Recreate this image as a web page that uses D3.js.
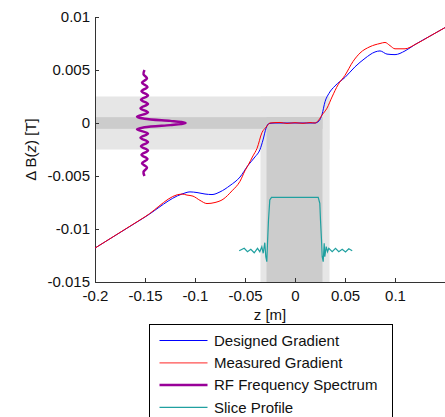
<!DOCTYPE html>
<html>
<head>
<meta charset="utf-8">
<script src="https://cdn.jsdelivr.net/npm/d3@7"></script>
<style>
  body { margin: 0; background: #fff; }
  svg { font-family: "Liberation Sans", Arial, sans-serif; }
</style>
</head>
<body>
<div id="chart"></div>
<script>
'use strict'

// ---- data ----
const xTicks = [-0.2, -0.15, -0.1, -0.05, 0, 0.05, 0.1]
const yTicks = [-0.015, -0.01, -0.005, 0, 0.005, 0.01]

// designed gradient (blue)
const designedZ = [-0.2, -0.15, -0.113, -0.105, -0.098, -0.09, -0.083, -0.075, -0.065, -0.055, -0.047, -0.04, -0.035, -0.032, -0.029, -0.026, -0.02, 0, 0.02, 0.024, 0.027, 0.03, 0.034, 0.04, 0.05, 0.06, 0.07, 0.08, 0.085, 0.092, 0.1, 0.11, 0.12, 0.135, 0.15]
const designedB = [-0.0118, -0.00887, -0.0067, -0.0065, -0.00656, -0.0067, -0.00675, -0.0065, -0.0059, -0.0051, -0.004, -0.0032, -0.0025, -0.0016, -0.0005, -0.00005, 0, 0, 0, 0.0002, 0.0008, 0.002, 0.0028, 0.0035, 0.0043, 0.0053, 0.0061, 0.0067, 0.0068, 0.0065, 0.00645, 0.0068, 0.0074, 0.0082, 0.009]

// measured gradient (red)
const measuredZ = [-0.2, -0.15, -0.113, -0.108, -0.102, -0.095, -0.088, -0.08, -0.072, -0.063, -0.055, -0.05, -0.047, -0.042, -0.038, -0.033, -0.029, -0.025, -0.015, -0.008, 0, 0.008, 0.015, 0.02, 0.023, 0.027, 0.032, 0.037, 0.043, 0.05, 0.058, 0.065, 0.075, 0.085, 0.09, 0.095, 0.1, 0.11, 0.12, 0.135, 0.15]
const measuredB = [-0.0118, -0.00885, -0.0067, -0.0068, -0.0069, -0.0073, -0.0076, -0.0075, -0.0072, -0.0064, -0.0055, -0.0045, -0.004, -0.0031, -0.0024, -0.0009, -0.0004, 0, 0.00005, -0.00004, 0.00003, -0.00003, 0.00004, 0, 0.0002, 0.00075, 0.0014, 0.00245, 0.0036, 0.0045, 0.0058, 0.0066, 0.0072, 0.0075, 0.0076, 0.0073, 0.007, 0.007, 0.0074, 0.0082, 0.009]

// RF frequency spectrum (purple), drawn sideways: B along y, amplitude along z
const rfB = [0.005, 0.0046, 0.0042, 0.0038, 0.0034, 0.003, 0.0026, 0.0022, 0.0018, 0.0014, 0.001, 0.0006, 0.0004, 0.0002, 0.0001, 0, -0.0001, -0.0002, -0.0004, -0.0006, -0.001, -0.0014, -0.0018, -0.0022, -0.0026, -0.003, -0.0034, -0.0038, -0.0042, -0.0046, -0.005]
const rfZ = [-0.1505, -0.1515, -0.148, -0.153, -0.1475, -0.1535, -0.147, -0.154, -0.147, -0.1545, -0.147, -0.158, -0.1505, -0.1247, -0.114, -0.1095, -0.114, -0.1247, -0.1505, -0.158, -0.147, -0.1545, -0.147, -0.154, -0.147, -0.1535, -0.1475, -0.153, -0.148, -0.1515, -0.1505]

// slice profile (teal)
const sliceZ = [-0.0558, -0.0508, -0.0475, -0.0442, -0.0408, -0.0375, -0.0352, -0.0332, -0.0318, -0.0302, -0.0292, -0.0282, -0.0275, -0.0265, -0.0252, -0.0235, 0.0232, 0.0248, 0.0255, 0.0265, 0.0272, 0.0282, 0.0292, 0.0298, 0.0312, 0.0325, 0.0338, 0.0372, 0.0405, 0.0438, 0.0472, 0.0505, 0.0538, 0.0572]
const sliceB = [-0.01205, -0.01182, -0.01214, -0.01192, -0.01224, -0.01182, -0.01214, -0.01167, -0.01229, -0.01129, -0.01261, -0.01308, -0.01135, -0.00915, -0.00726, -0.00701, -0.00701, -0.00758, -0.00915, -0.01104, -0.01261, -0.01308, -0.01135, -0.01261, -0.01167, -0.01214, -0.01182, -0.01214, -0.01182, -0.01214, -0.01192, -0.01217, -0.01186, -0.01205]

// shaded slice / bandwidth regions [z0, z1, b0, b1]
const lightBands = [[-0.2, 0.0345, -0.0025, 0.0025], [-0.0345, 0.0345, -0.015, 0.0025]]
const darkBands = [[-0.2, 0.0275, -0.00055, 0.00055], [-0.0285, 0.0275, -0.015, 0.00055]]

const legendItems = [
    { label: 'Designed Gradient', color: '#0000ff', width: 1 },
    { label: 'Measured Gradient', color: '#ff5050', width: 1.2 },
    { label: 'RF Frequency Spectrum', color: '#990099', width: 2.5 },
    { label: 'Slice Profile', color: '#20a0a0', width: 1.2 }
]

// ---- layout ----
const svgWidth = 445
const svgHeight = 417
const margin = { left: 95, right: 0, top: 17, bottom: 135 }
const width = svgWidth - margin.left - margin.right
const height = svgHeight - margin.top - margin.bottom

const svg = d3.select('#chart')
    .append('svg')
    .attr('width', svgWidth)
    .attr('height', svgHeight)

const g = svg.append('g')
    .attr('transform', `translate(${margin.left},${margin.top})`)

const xScale = d3.scaleLinear().domain([-0.2, 0.15]).range([0, width])
const yScale = d3.scaleLinear().domain([-0.015, 0.01]).range([height, 0])

// bands
function drawBands(bands, fill) {
    g.selectAll(null)
        .data(bands)
        .join('rect')
        .attr('x', d => xScale(d[0]))
        .attr('width', d => xScale(d[1]) - xScale(d[0]))
        .attr('y', d => yScale(d[3]))
        .attr('height', d => yScale(d[2]) - yScale(d[3]))
        .attr('fill', fill)
}
drawBands(lightBands, '#e6e6e6')
drawBands(darkBands, '#cccccc')

// axes
const fmt = d => String(d)
const xAxis = d3.axisBottom(xScale)
    .tickValues(xTicks)
    .tickFormat(fmt)
    .tickSizeInner(-4)
    .tickSizeOuter(0)
    .tickPadding(8)

const yAxis = d3.axisLeft(yScale)
    .tickValues(yTicks)
    .tickFormat(fmt)
    .tickSizeInner(-4)
    .tickSizeOuter(0)
    .tickPadding(5)

const gx = g.append('g')
    .attr('transform', `translate(0,${height})`)
    .call(xAxis)
const gy = g.append('g').call(yAxis)

for (const ax of [gx, gy]) {
    ax.select('.domain').attr('stroke', '#333')
    ax.selectAll('.tick line').attr('stroke', '#333')
    ax.selectAll('.tick text')
        .attr('fill', '#111')
        .style('font-size', '15px')
        .style('font-family', '"Liberation Sans", Arial, sans-serif')
}

// curves
const line = d3.line()
    .x(d => xScale(d[0]))
    .y(d => yScale(d[1]))

function pairs(xs, ys) { return xs.map((x, i) => [x, ys[i]]) }

g.append('path')
    .datum(pairs(designedZ, designedB))
    .attr('fill', 'none')
    .attr('stroke', '#0000ff')
    .attr('stroke-width', 1)
    .attr('d', line.curve(d3.curveMonotoneX))

g.append('path')
    .datum(pairs(measuredZ, measuredB))
    .attr('fill', 'none')
    .attr('stroke', '#ff0000')
    .attr('stroke-width', 1)
    .attr('d', line.curve(d3.curveMonotoneX))

g.append('path')
    .datum(pairs(rfZ, rfB))
    .attr('fill', 'none')
    .attr('stroke', '#990099')
    .attr('stroke-width', 2.5)
    .attr('d', line.curve(d3.curveCatmullRom))

g.append('path')
    .datum(pairs(sliceZ, sliceB))
    .attr('fill', 'none')
    .attr('stroke', '#20a0a0')
    .attr('stroke-width', 1.2)
    .attr('d', line.curve(d3.curveLinear))

// axis labels
svg.append('text')
    .attr('x', margin.left + width / 2)
    .attr('y', 320)
    .attr('text-anchor', 'middle')
    .style('font-size', '15px')
    .attr('fill', '#111')
    .text('z [m]')

const yLab = svg.append('text')
    .attr('transform', `translate(35.5,${margin.top + height / 2}) rotate(-90)`)
    .attr('text-anchor', 'middle')
    .style('font-size', '15px')
    .attr('fill', '#111')
yLab.append('tspan').text('Δ B(')
yLab.append('tspan').style('font-style', 'italic').text('z')
yLab.append('tspan').text(') [T]')

// legend
const legend = svg.append('g').attr('transform', 'translate(149.5,324.5)')
legend.append('rect')
    .attr('width', 243)
    .attr('height', 110)
    .attr('fill', '#fff')
    .attr('stroke', '#000')

const items = legend.selectAll('.item')
    .data(legendItems)
    .join('g')
    .attr('class', 'item')
    .attr('transform', (d, i) => `translate(0,${16 + i * 22.3})`)

items.append('line')
    .attr('x1', 10).attr('x2', 58)
    .attr('stroke', d => d.color)
    .attr('stroke-width', d => d.width)

items.append('text')
    .attr('x', 64.5)
    .attr('dy', '0.35em')
    .style('font-size', '15px')
    .attr('fill', '#111')
    .text(d => d.label)
</script>
</body>
</html>
